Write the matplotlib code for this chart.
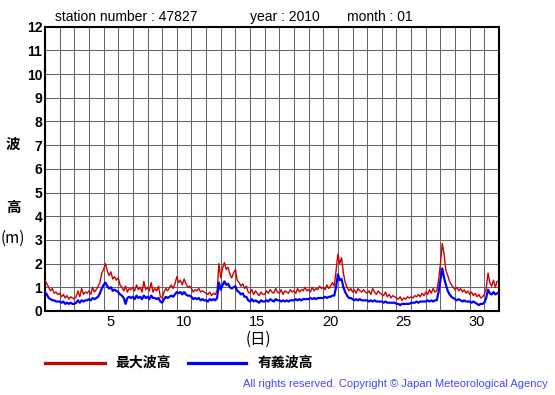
import numpy as np
import matplotlib
matplotlib.use("Agg")
import matplotlib.pyplot as plt

plt.rcParams['font.family'] = ['Liberation Sans', 'Noto Sans CJK JP', 'DejaVu Sans']
JP = ['Noto Sans CJK JP', 'DejaVu Sans']

# 3-hourly readings (8 per day), January 2010, station 47827
max_wave = [
    [1.30, 1.15, 1.00, 0.85, 0.95, 0.75, 0.80, 0.70],
    [0.75, 0.60, 0.70, 0.55, 0.65, 0.50, 0.60, 0.55],
    [0.50, 0.60, 0.85, 0.60, 0.95, 0.70, 0.80, 0.75],
    [0.85, 0.70, 1.00, 0.80, 0.90, 1.05, 1.20, 1.60],
    [1.75, 2.00, 1.70, 1.50, 1.65, 1.35, 1.45, 1.30],
    [1.40, 1.10, 1.00, 0.85, 1.05, 0.80, 0.95, 0.90],
    [1.00, 0.85, 1.10, 0.90, 1.00, 0.80, 1.25, 0.90],
    [1.00, 0.85, 1.20, 0.80, 0.95, 0.85, 1.05, 0.60],
    [0.55, 0.80, 0.95, 0.85, 1.00, 1.10, 0.95, 1.15],
    [1.45, 1.20, 1.30, 1.10, 1.35, 1.15, 1.00, 1.05],
    [0.95, 0.80, 0.90, 0.85, 0.95, 0.80, 0.85, 0.80],
    [0.75, 0.70, 0.80, 0.65, 0.75, 0.70, 0.85, 2.00],
    [1.40, 1.80, 2.05, 1.75, 1.85, 1.55, 1.40, 1.60],
    [1.75, 1.30, 1.20, 1.05, 1.15, 0.95, 1.05, 0.80],
    [0.75, 0.90, 0.70, 0.85, 0.75, 0.65, 0.80, 0.70],
    [0.70, 0.85, 0.75, 0.90, 0.80, 0.75, 0.95, 0.80],
    [0.75, 0.90, 0.70, 0.85, 0.80, 0.75, 0.90, 0.80],
    [0.85, 0.75, 0.95, 0.80, 0.90, 0.85, 1.00, 0.85],
    [0.90, 0.80, 1.00, 0.85, 0.95, 0.90, 1.05, 0.95],
    [1.00, 0.90, 1.10, 0.95, 1.05, 1.20, 1.05, 1.70],
    [2.40, 2.00, 2.25, 1.60, 1.20, 1.00, 0.85, 0.95],
    [0.80, 0.90, 0.75, 0.95, 0.85, 0.80, 0.90, 0.80],
    [0.75, 0.85, 0.70, 0.95, 0.80, 0.70, 0.85, 0.75],
    [0.70, 0.65, 0.80, 0.60, 0.70, 0.55, 0.65, 0.60],
    [0.55, 0.50, 0.60, 0.45, 0.55, 0.50, 0.60, 0.55],
    [0.60, 0.55, 0.65, 0.60, 0.70, 0.60, 0.75, 0.65],
    [0.80, 0.70, 0.90, 0.75, 0.95, 0.80, 0.85, 1.30],
    [2.00, 2.85, 2.40, 1.70, 1.50, 1.25, 1.10, 1.00],
    [0.90, 1.00, 0.85, 0.95, 0.80, 0.90, 0.75, 0.85],
    [0.70, 0.80, 0.65, 0.75, 0.60, 0.70, 0.55, 0.60],
    [0.70, 0.95, 1.60, 1.20, 1.05, 1.30, 1.00, 1.25],
]
sig_wave = [
    [0.80, 0.70, 0.55, 0.50, 0.45, 0.45, 0.40, 0.40],
    [0.40, 0.35, 0.40, 0.30, 0.35, 0.30, 0.35, 0.30],
    [0.30, 0.35, 0.45, 0.35, 0.45, 0.40, 0.45, 0.45],
    [0.50, 0.45, 0.55, 0.50, 0.55, 0.60, 0.75, 0.95],
    [1.10, 1.20, 1.05, 0.95, 1.00, 0.85, 0.90, 0.85],
    [0.80, 0.70, 0.65, 0.55, 0.30, 0.55, 0.60, 0.55],
    [0.60, 0.50, 0.65, 0.55, 0.60, 0.50, 0.65, 0.55],
    [0.60, 0.50, 0.65, 0.55, 0.55, 0.50, 0.55, 0.40],
    [0.35, 0.50, 0.60, 0.55, 0.60, 0.65, 0.60, 0.70],
    [0.80, 0.75, 0.80, 0.70, 0.80, 0.70, 0.65, 0.65],
    [0.60, 0.50, 0.55, 0.50, 0.55, 0.45, 0.50, 0.45],
    [0.45, 0.40, 0.50, 0.45, 0.50, 0.45, 0.55, 1.20],
    [0.90, 1.10, 1.25, 1.10, 1.15, 1.00, 0.95, 1.00],
    [1.05, 0.85, 0.80, 0.70, 0.75, 0.60, 0.60, 0.45],
    [0.40, 0.50, 0.40, 0.45, 0.40, 0.35, 0.45, 0.40],
    [0.40, 0.45, 0.40, 0.50, 0.45, 0.40, 0.50, 0.45],
    [0.45, 0.40, 0.45, 0.40, 0.45, 0.40, 0.45, 0.45],
    [0.45, 0.50, 0.45, 0.50, 0.45, 0.50, 0.50, 0.50],
    [0.50, 0.55, 0.50, 0.55, 0.50, 0.55, 0.55, 0.55],
    [0.55, 0.60, 0.55, 0.60, 0.60, 0.65, 0.65, 1.00],
    [1.55, 1.30, 1.35, 1.00, 0.80, 0.65, 0.55, 0.55],
    [0.50, 0.45, 0.50, 0.45, 0.50, 0.45, 0.45, 0.45],
    [0.45, 0.40, 0.45, 0.40, 0.45, 0.40, 0.40, 0.40],
    [0.40, 0.35, 0.40, 0.35, 0.35, 0.35, 0.35, 0.35],
    [0.30, 0.30, 0.25, 0.30, 0.30, 0.30, 0.30, 0.30],
    [0.35, 0.35, 0.35, 0.40, 0.35, 0.40, 0.40, 0.40],
    [0.40, 0.45, 0.40, 0.45, 0.40, 0.45, 0.45, 0.80],
    [1.30, 1.80, 1.40, 1.10, 0.85, 0.70, 0.60, 0.55],
    [0.50, 0.45, 0.50, 0.45, 0.40, 0.45, 0.40, 0.40],
    [0.40, 0.35, 0.40, 0.35, 0.30, 0.25, 0.30, 0.30],
    [0.35, 0.55, 0.90, 0.75, 0.70, 0.80, 0.70, 0.75],
]
day_labels = ['5', '10', '15', '20', '25', '30']
day_label_days = [5, 10, 15, 20, 25, 30]
n_days = 31

red = np.array(max_wave).ravel()
blue = np.array(sig_wave).ravel()
t = np.arange(red.size) / 8.0   # elapsed days since Jan 1 00:00

fig = plt.figure(figsize=(5.55, 3.95), dpi=100)
ax = fig.add_axes([45/555, 1 - 311/395, 454/555, (311 - 26.7)/395])

ax.plot(t, red, color='#cc0000', lw=1.0, zorder=3)
ax.plot(t, blue, color='#0000ff', lw=1.6, zorder=4)

ax.set_xlim(0, n_days)
ax.set_ylim(0, 12)
ax.set_xticks(np.arange(0, n_days + 1), minor=True)
ax.set_xticks(np.array(day_label_days) - 0.5)   # label sits in the middle of the day
ax.set_xticklabels(day_labels, fontsize=10.5)
ax.set_yticks(np.arange(0, 13))
ax.set_yticklabels([str(v) for v in range(13)], fontsize=10, fontweight='bold')
ax.tick_params(axis='both', which='both', length=0)
ax.tick_params(axis='x', pad=3)
ax.tick_params(axis='y', pad=2)
ax.grid(True, which='minor', axis='x', color='#666666', lw=0.75)
ax.grid(True, which='major', axis='y', color='#666666', lw=0.75)
for s in ax.spines.values():
    s.set_color('black')
    s.set_linewidth(1.5)

# header
fig.text(55/555, 1 - 17/395, 'station number : 47827', fontsize=10, va='center')
fig.text(250/555, 1 - 17/395, 'year : 2010', fontsize=10, va='center')
fig.text(347/555, 1 - 17/395, 'month : 01', fontsize=10, va='center')

# y label, written down the side
fig.text(13/555, 1 - 144/395, '波', family=JP, fontsize=10.5, fontweight='bold', ha='center', va='center')
fig.text(13/555, 1 - 207/395, '高', family=JP, fontsize=10.5, fontweight='bold', ha='center', va='center')
fig.text(13/555, 1 - 238/395, '(m)', family=JP, fontsize=11, ha='center', va='center')
fig.text(258/555, 1 - 339/395, '(日)', family=JP, fontsize=11, ha='center', va='center')

# legend
fig.add_artist(plt.Line2D([45/555, 105/555], [1 - 362.5/395] * 2, color='#cc0000', lw=2.3))
fig.text(115/555, 1 - 362.5/395, '最大波高', family=JP, fontsize=10, fontweight='bold', va='center')
fig.add_artist(plt.Line2D([188/555, 246/555], [1 - 362.5/395] * 2, color='#0000ff', lw=2.3))
fig.text(258/555, 1 - 362.5/395, '有義波高', family=JP, fontsize=10, fontweight='bold', va='center')

fig.text(548/555, 1 - 384/395, 'All rights reserved. Copyright © Japan Meteorological Agency',
         fontsize=8, color='#4444ff', ha='right', va='center')

fig.savefig('out.png', dpi=100)
